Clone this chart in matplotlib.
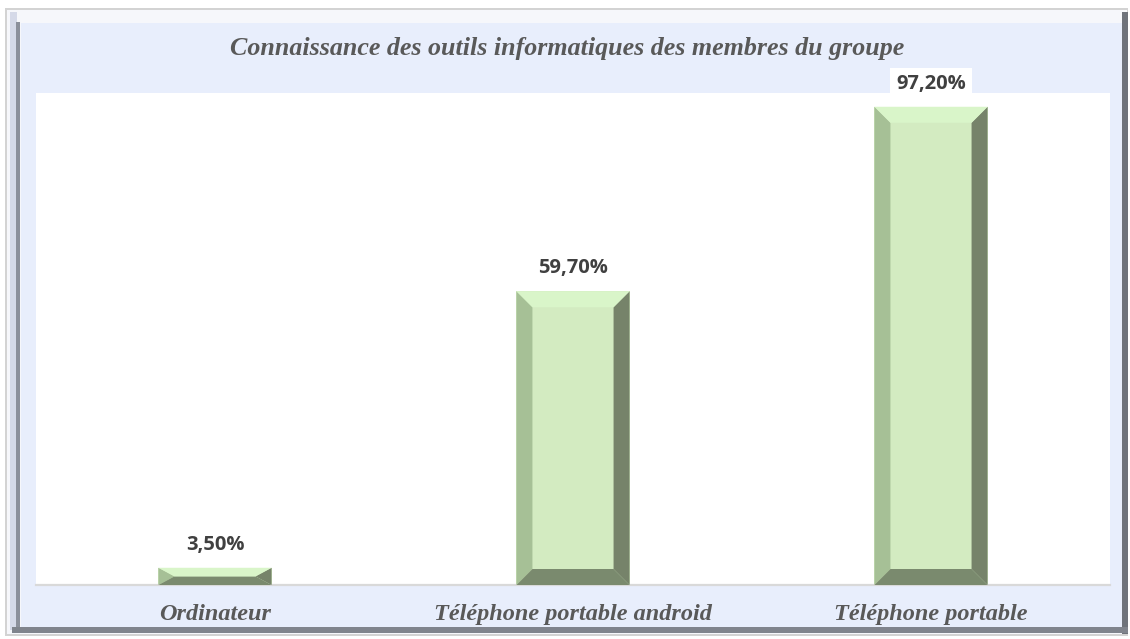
import matplotlib
matplotlib.use("Agg")
import matplotlib.pyplot as plt
from matplotlib.patches import Rectangle, Polygon

categories = ["Ordinateur", "Téléphone portable android", "Téléphone portable"]
values = [3.5, 59.7, 97.2]
labels = ["3,50%", "59,70%", "97,20%"]
title = "Connaissance des outils informatiques des membres du groupe"

W, H = 1130, 639
fig = plt.figure(figsize=(W / 100, H / 100), dpi=100)
fig.patch.set_facecolor("white")


def prect(x0, y0, x1, y1, color, z=0):
    fig.patches.append(Rectangle((x0 / W, 1 - y1 / H), (x1 - x0) / W, (y1 - y0) / H,
                                 transform=fig.transFigure, facecolor=color,
                                 edgecolor="none", zorder=z))


# frame
prect(5, 8, 1128, 636, "#D3D3D3", 0)
prect(7, 10, 1127, 634, "#F6F7FB", 0.1)
prect(10, 12, 17, 630, "#D5D9E8", 0.2)
prect(16, 22, 20, 629, "#8C909B", 0.3)
prect(1122, 12, 1128, 634, "#6F737B", 0.3)
prect(12, 627, 1128, 633, "#80848D", 0.3)
prect(21, 23, 1122, 627, "#E8EEFC", 0.5)

# plot area
px0, px1, py0, py1 = 36, 1110, 93, 585
ax = fig.add_axes([px0 / W, 1 - py1 / H, (px1 - px0) / W, (py1 - py0) / H])
ax.set_facecolor("white")
ax.set_zorder(1)
ax.set_xlim(-0.5, 2.5)
ax.set_ylim(0, 100)
for s in ["top", "left", "right"]:
    ax.spines[s].set_visible(False)
ax.spines["bottom"].set_color("#D9D9D9")
ax.spines["bottom"].set_linewidth(1.6)
ax.set_yticks([])
ax.set_xticks(range(len(categories)))
ax.set_xticklabels(categories, fontfamily="Liberation Serif", fontweight="bold",
                   fontstyle="italic", fontsize=17.5, color="#595959")
ax.tick_params(axis="x", length=0, pad=14)

bw = 0.316
px_per_x = (px1 - px0) / 3.0
px_per_y = (py1 - py0) / 100.0
bev = 16
bx = bev / px_per_x
bars = ax.bar(range(len(categories)), values, width=bw, color="#D3EBC1", edgecolor="none", zorder=2)
for i, (b, v) in enumerate(zip(bars, values)):
    x0 = b.get_x()
    x1 = x0 + b.get_width()
    by = min(bev / px_per_y, v / 2)
    top = [(x0, v), (x1, v), (x1 - bx, v - by), (x0 + bx, v - by)]
    left = [(x0, 0), (x0, v), (x0 + bx, v - by), (x0 + bx, by)]
    right = [(x1, 0), (x1, v), (x1 - bx, v - by), (x1 - bx, by)]
    bottom = [(x0, 0), (x1, 0), (x1 - bx, by), (x0 + bx, by)]
    for pts, col in [(left, "#A6C096"), (right, "#76836A"), (bottom, "#7A8A6E"), (top, "#D9F5C9")]:
        ax.add_patch(Polygon(pts, closed=True, facecolor=col, edgecolor="none", zorder=3))
    ax.annotate(labels[i], (b.get_x() + b.get_width() / 2, v), xytext=(0, 16.5),
                textcoords="offset points", ha="center", va="center",
                fontfamily="Open Sans", fontweight="bold", fontsize=14.5, color="#404040",
                bbox=dict(boxstyle="square,pad=0.3", facecolor="white", edgecolor="none"),
                annotation_clip=False, zorder=5)

fig.text(567 / W, 1 - 49 / H, title, ha="center", va="center",
         fontfamily="Liberation Serif", fontweight="bold", fontstyle="italic",
         fontsize=18.7, color="#595959", zorder=2)

fig.savefig("out.png", dpi=100, facecolor=fig.get_facecolor())
